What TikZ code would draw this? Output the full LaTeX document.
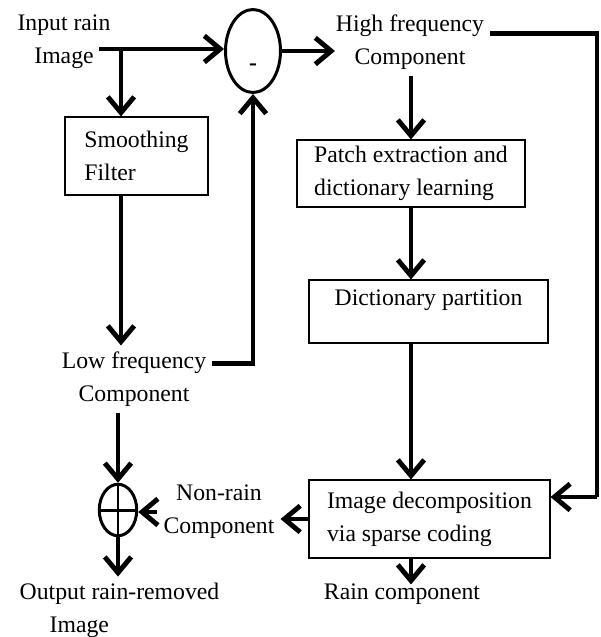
\documentclass[tikz,border=0pt]{standalone}
\usepackage{fontspec}
\setmainfont{Liberation Serif}
\usetikzlibrary{shapes, arrows.meta, positioning, arrows}

\begin{document}
\begin{tikzpicture}[x=0.02cm, y=-0.02cm, font=\fontsize{13.5}{18.7}\selectfont]
    \useasboundingbox (0,0) rectangle (600,637);
    \tikzstyle{block} = [draw, line width=0.6pt, align=left];
    \tikzstyle{junction} = [draw, ellipse, line width=1.7pt, inner sep=0pt];
    \node[draw=none, align=center] at (64,42) (input) {Input rain\\Image};
    \node[junction,
        minimum width=1.1cm,
        minimum height=1.66cm] at (253,51) (minus) {\smash{\raisebox{-0.38cm}{\textbf{-}}}};
    \node[draw=none, align=center] at (410,42) (high) {High frequency\\Component};
    \node[block,
        minimum width=2.86cm,
        minimum height=1.56cm] at (136.5,156) (smooth) {Smoothing\\Filter};
    \node[block,
        minimum width=4.56cm,
        minimum height=1.34cm] at (411,173.5) (patch) {Patch extraction and\\dictionary learning};
    \node[block,
        minimum width=4.78cm,
        minimum height=1.26cm,
        text depth=0.55cm] at (428.5,311.5) (partition) {Dictionary partition};
    \node[draw=none, align=center] at (134,379) (low) {Low frequency\\Component};
    \node[block,
        minimum width=4.82cm,
        minimum height=1.56cm] at (429.5,519) (decomp) {Image decomposition\\via sparse coding};
    \node[junction,
        minimum width=0.75cm,
        minimum height=1.03cm] at (118,510) (plus) {};
    \draw[line width=1.7pt] (plus.north) -- (plus.south) (plus.west) -- (plus.east);
    \node[draw=none, align=center] at (219,512) (nonrain) {Non-rain\\Component};
    \node[draw=none, align=left] at (119.5,610) (output) {Output rain-removed\\\hspace{0.6cm}Image};
    \node[draw=none] at (402,594) (rain) {Rain component};
    \coordinate (split) at (121,49);
    \coordinate (corner) at (597,497);
    \tikzstyle{connector} = [draw, line width=2.8pt, -{Straight Barb[length=9pt,width=15pt]}];
    \tikzstyle{conn} = [draw, line width=2.8pt, -];
    \path[conn] ([xshift=-10pt]input.east |- split) -- (split);
    \path[connector] (split) -- (split -| minus.west);
    \path[connector] (split) -- (split |- smooth.north);
    \path[connector] (split |- smooth.south) -- (split |- low.north);
    \path[connector] ([yshift=9pt]low.east) -| (minus.south);
    \path[connector] (minus.east) -- ([xshift=3pt]minus.east -| high.west);
    \path[conn] ([yshift=5pt]high.east) -| (corner);
    \path[connector] (corner) -- (corner -| decomp.east);
    \path[connector] (patch.north |- high.south) -- (patch.north);
    \path[connector] (patch.south) -- (patch.south |- partition.north);
    \path[connector] (patch.south |- partition.south) -- (patch.south |- decomp.north);
    \path[connector] (patch.south |- decomp.south) -- ([yshift=-4pt]patch.south |- rain.north);
    \path[connector] (decomp.west) -- (decomp.west -| nonrain.east);
    \path[connector] (nonrain.west) -- (nonrain.west -| plus.east);
    \path[connector] (plus.north |- low.south) -- (plus.north);
    \path[connector] (plus.south) -- (plus.south |- output.north);
\end{tikzpicture}
\end{document}
